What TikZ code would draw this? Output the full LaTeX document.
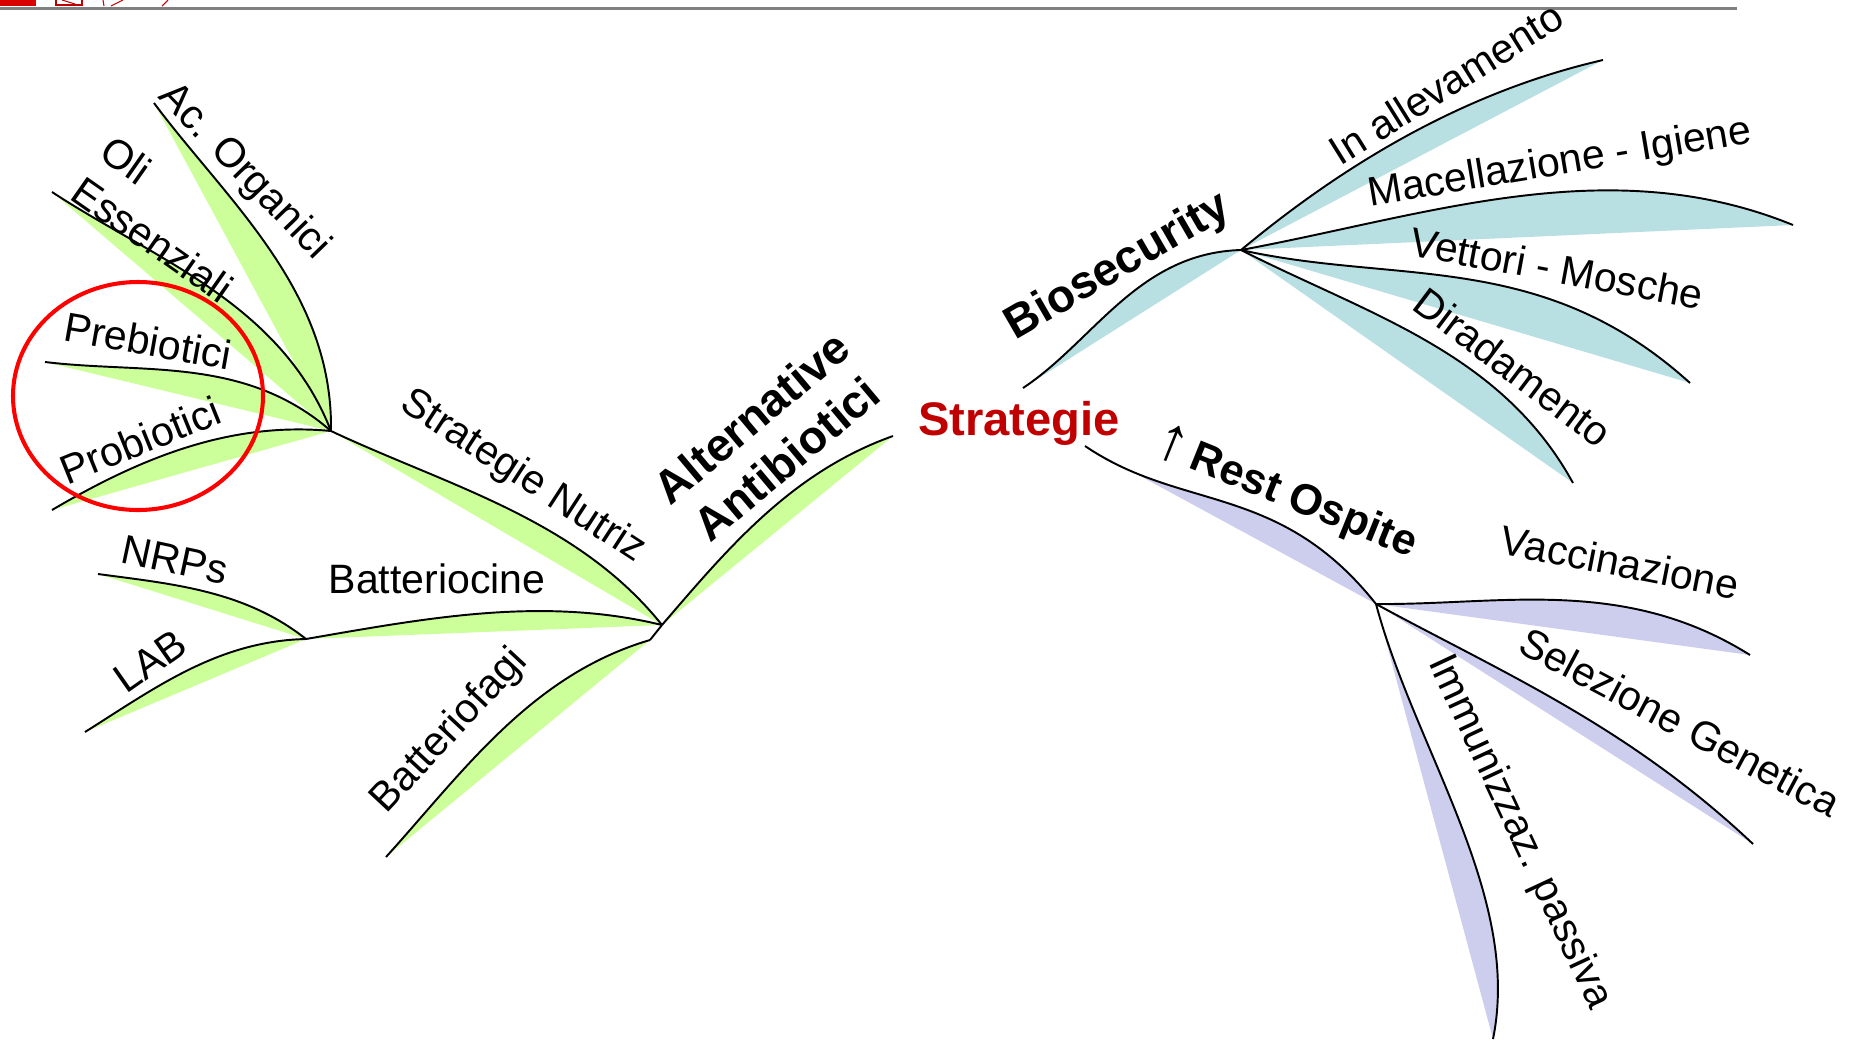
\documentclass[tikz,border=0pt]{standalone}
\usepackage{fontspec}
\setmainfont{Liberation Sans}
\definecolor{leafgreen}{HTML}{CCFF99}
\definecolor{leafteal}{HTML}{B8E0E3}
\definecolor{leaflilac}{HTML}{CDCDEE}
\definecolor{stratred}{HTML}{C00000}
\newcommand{\leaf}[5]{%
  \fill[#1] (#2) .. controls (#3) and (#4) .. (#5) -- cycle;
  \draw[stem] (#2) .. controls (#3) and (#4) .. (#5);}
\begin{document}
\begin{tikzpicture}[
    x=0.01cm, y=-0.01cm,
    stem/.style={line width=0.55pt, black},
    lbl/.style={inner sep=0pt, font=\fontsize{11.67}{14.2}\selectfont},
    head/.style={inner sep=0pt, align=center, font=\fontsize{13.1}{15.4}\selectfont\bfseries},
    ring/.style={draw=red, line width=1.15pt},
    logo/.style={draw=red!75!black, line width=0.3pt}
  ]
    \useasboundingbox (0,0) rectangle (1857,1039);
    \fill[red!85!black] (0,0) rectangle (36,6);
    \draw[logo] (56,0) -- (56,5) -- (82,5) -- (82,0);
    \draw[logo] (62,0) -- (75,4);
    \draw[logo] (103,0) -- (104,6);
    \draw[logo] (111,6) -- (123,0);
    \draw[logo] (162,6) -- (168,0);
    \draw[line width=0.94pt, black!50] (0,8.3) -- (1737,8.3);

    \coordinate (hubA) at (331,431);
    \coordinate (tipAc) at (154,103);
    \coordinate (tipOli) at (52,192);
    \coordinate (tipPre) at (45,362);
    \coordinate (tipPro) at (52,510);
    \coordinate (hubB) at (306,639);
    \coordinate (tipNRP) at (98,574);
    \coordinate (tipLAB) at (85,732);
    \coordinate (hubJ) at (662,625);
    \coordinate (kinkJ) at (650,640);
    \coordinate (tipFag) at (386,857);
    \coordinate (tipAlt) at (893,436);
    \coordinate (rootBio) at (1023,388);
    \coordinate (hubD) at (1241,250);
    \coordinate (tipAll) at (1603,60);
    \coordinate (tipMac) at (1793,225);
    \coordinate (tipVet) at (1690,383);
    \coordinate (tipDir) at (1573,483);
    \coordinate (rootRest) at (1085,446);
    \coordinate (hubE) at (1376,604);
    \coordinate (tipVac) at (1750,655);
    \coordinate (tipSel) at (1753,844);
    \coordinate (tipImm) at (1493,1039);

    \leaf{leafgreen}{hubA}{333,290}{227,201}{tipAc}
    \leaf{leafgreen}{hubA}{281,303}{154,259}{tipOli}
    \leaf{leafgreen}{hubA}{245,356}{144,374}{tipPre}
    \leaf{leafgreen}{hubA}{228,421}{137,460}{tipPro}
    \leaf{leafgreen}{hubA}{448,486}{577,519}{hubJ}
    \leaf{leafgreen}{hubB}{427,618}{543,596}{hubJ}
    \leaf{leafgreen}{hubB}{244,590}{172,584}{tipNRP}
    \leaf{leafgreen}{hubB}{218,641}{155,688}{tipLAB}
    \leaf{leafgreen}{kinkJ}{531,675}{463,772}{tipFag}
    \draw[stem] (hubJ) -- (kinkJ);
    \leaf{leafgreen}{hubJ}{729,547}{792,472}{tipAlt}

    \leaf{leafteal}{rootBio}{1094,341}{1138,253}{hubD}
    \leaf{leafteal}{hubD}{1348,161}{1468,91}{tipAll}
    \leaf{leafteal}{hubD}{1429,215}{1609,150}{tipMac}
    \leaf{leafteal}{hubD}{1398,285}{1542,249}{tipVet}
    \leaf{leafteal}{hubD}{1369,315}{1501,352}{tipDir}

    \leaf{leaflilac}{rootRest}{1182,512}{1279,482}{hubE}
    \leaf{leaflilac}{hubE}{1502,605}{1624,576}{tipVac}
    \leaf{leaflilac}{hubE}{1503,673}{1628,726}{tipSel}
    \leaf{leaflilac}{hubE}{1415,750}{1522,896}{tipImm}

    \draw[ring] (138,396) ellipse [x radius=125, y radius=114];

    \node[lbl, rotate=-46] (acorg) at (244,172) {Ac. Organici};
    \node[lbl, rotate=-35, align=left] (olies) at (167,219) {Oli\\Essenziali};
    \node[lbl, rotate=-10] (prebio) at (148,341) {Prebiotici};
    \node[lbl, rotate=22] (probio) at (140,440) {Probiotici};
    \node[lbl, rotate=-33] (nutriz) at (523,477) {Strategie Nutriz};
    \node[lbl, anchor=base] (batcin) at (437,593) {Batteriocine};
    \node[lbl, rotate=47] (batfag) at (450,731) {Batteriofagi};
    \node[lbl, rotate=-12] (nrps) at (175,560) {NRPs};
    \node[lbl, rotate=35] (lab) at (150,661) {LAB};
    \node[head, rotate=40] (altab) at (769,438) {Alternative\\Antibiotici};
    \node[head, text=stratred, font=\fontsize{13.4}{16}\selectfont\bfseries, anchor=base] (strat) at (1019,435) {Strategie};
    \node[head, rotate=30] (biosec) at (1118,267) {Biosecurity};
    \node[lbl, rotate=32] (alleva) at (1446,83) {In allevamento};
    \node[lbl, rotate=9.5] (macel) at (1560,164) {Macellazione - Igiene};
    \node[lbl, rotate=-10.5] (vettori) at (1557,268) {Vettori - Mosche};
    \node[lbl, rotate=-37] (dirad) at (1513,367) {Diradamento};
    \node[head, rotate=-22, font=\fontsize{12.3}{14}\selectfont\bfseries] (restosp) at (1286,493) {{\mdseries\fontsize{18}{18}\selectfont ↑}\,Rest Ospite};
    \node[lbl, rotate=-11] (vacc) at (1620,562) {Vaccinazione};
    \node[lbl, rotate=-28] (selgen) at (1680,722) {Selezione Genetica};
    \node[lbl, rotate=-65] (immun) at (1519,832) {Immunizzaz. passiva};
  \end{tikzpicture}
\end{document}
